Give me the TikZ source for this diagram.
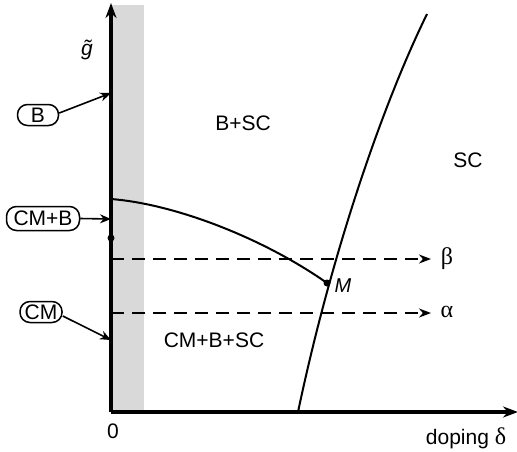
\documentclass[tikz,border=0pt]{standalone}
\usepackage{fontspec}
\setmainfont{Liberation Sans}
\newfontfamily\greekserif{Liberation Serif}
\usetikzlibrary{arrows.meta}
\begin{document}
\begin{tikzpicture}[x=1pt,y=-1pt,
  axis/.style={line width=3.2pt,-{Stealth[length=15pt,width=11pt]}},
  bound/.style={line width=2pt},
  dline/.style={line width=1.8pt,dash pattern=on 13pt off 8pt,-{Stealth[length=12pt,width=9pt]}},
  oval/.style={draw,line width=1.5pt,rounded corners=10pt,inner xsep=3pt,inner ysep=1pt,minimum height=22pt,font=\fontsize{21}{22}\selectfont},
  lab/.style={font=\fontsize{21}{22}\selectfont},
  pt/.style={circle,fill=black,inner sep=0pt,minimum size=7pt},
  ptr/.style={line width=1.6pt,-{Stealth[length=11pt,width=9pt]}}]
\useasboundingbox (0,0) rectangle (517,451);
% gray band
\fill[black!15] (111,5) rectangle (144,412);
% coordinates
\coordinate (O) at (111,412);
\coordinate (ytop) at (111,3);
\coordinate (xend) at (518,412);
\coordinate (c0) at (111,199);
\coordinate (s0) at (298,412);
\coordinate (s1) at (427,14);
\coordinate (b0) at (111,259);
\coordinate (b1) at (431,259);
\coordinate (a0) at (111,313);
\coordinate (a1) at (431,313);
\coordinate (pB) at (111,93);
\coordinate (pCMB) at (111,219);
\coordinate (pCM) at (111,340);
% curves
\draw[bound] (c0) .. controls (175,204) and (263,238) .. (327,283);
\draw[bound] (s0) .. controls (330,260) and (380,110) .. (s1);
% dashed lines
\draw[dline] (b0) -- (b1);
\draw[dline] (a0) -- (a1);
% axes
\draw[axis] (O) -- (ytop);
\draw[axis] (O) -- (xend);
% points
\node[pt] (M) at (327,283) {};
\node[pt] (dot) at (111,238) {};
% labels
\node[lab, font=\fontsize{20}{22}\selectfont\itshape, anchor=west] (Mlab) at (331,286) {M};
\node[lab] (gt) at (87,50) {\itshape\~g};
\node[lab] (zero) at (113,431) {0};
\node[lab] (dop) at (466,438) {doping {\greekserif\fontsize{24}{24}\selectfont δ}};
\node[lab, font=\greekserif\fontsize{24}{24}\selectfont] (beta) at (447,259) {β};
\node[lab, font=\greekserif\fontsize{24}{24}\selectfont] (alpha) at (447,312) {α};
\node[lab] (BSC) at (243,123) {B+SC};
\node[lab] (SC) at (468,160) {SC};
\node[lab] (CMBSC) at (214,340) {CM+B+SC};
% ovals
\node[oval, minimum width=41pt, minimum height=21pt] (oB) at (38,115) {B};
\node[oval, minimum width=73pt, minimum height=24pt] (oCMB) at (43,218.5) {CM+B};
\node[oval, minimum width=42pt, minimum height=21pt] (oCM) at (41,312) {CM};
\draw[ptr] (oB.east) ++(0,-2) -- (pB);
\draw[ptr] (oCMB.east) -- (pCMB);
\draw[ptr] (oCM.east) ++(0,4) -- (pCM);
\end{tikzpicture}
\end{document}
